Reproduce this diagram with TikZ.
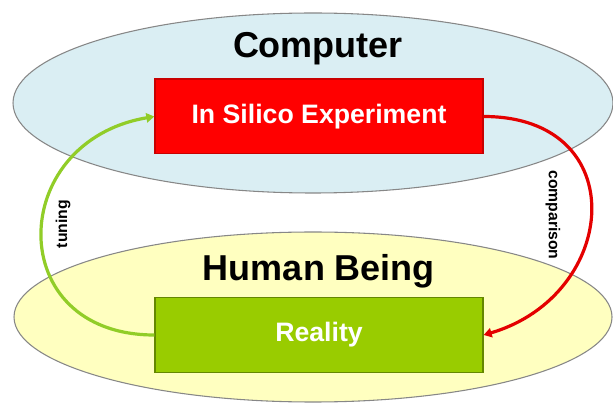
\documentclass[tikz,border=0pt]{standalone}
\usepackage{fontspec}
\setmainfont{Liberation Sans}
\usetikzlibrary{arrows.meta}

\definecolor{skyfill}{RGB}{218,238,243}
\definecolor{sandfill}{RGB}{255,255,192}
\definecolor{rimgray}{RGB}{135,135,135}
\definecolor{boxred}{RGB}{255,0,0}
\definecolor{boxredrim}{RGB}{200,0,0}
\definecolor{boxgreen}{RGB}{153,204,0}
\definecolor{boxgreenrim}{RGB}{100,135,0}
\definecolor{arrowgreen}{RGB}{145,205,40}
\definecolor{arrowred}{RGB}{228,0,0}

\tikzset{
	world/.style={draw=rimgray, line width=0.8pt},
	stage/.style={minimum width=246pt, minimum height=56pt, line width=1pt, text=white,
		font=\bfseries\fontsize{20}{24}\selectfont},
	title/.style={font=\bfseries\fontsize{27}{32}\selectfont},
	loop/.style={line width=2.4pt, -{Triangle[length=6pt,width=7pt]}},
	tag/.style={font=\bfseries\fontsize{11.8}{14}\selectfont}
}

\begin{document}
\begin{tikzpicture}[x=0.75pt,y=0.75pt]
		\useasboundingbox (0,0) rectangle (613,403);

		\draw[world, fill=skyfill] (313,300) ellipse [x radius=300, y radius=90];
		\draw[world, fill=sandfill] (313,86) ellipse [x radius=299, y radius=85];

		\node[title] (computer) at (318,354) {Computer};
		\node[title] (human) at (319,132) {Human Being};

		\node[stage, fill=boxred, draw=boxredrim] (silico) at (319,286.5) {In Silico Experiment};
		\node[stage, fill=boxgreen, draw=boxgreenrim] (reality) at (319,68) {Reality};

		\draw[loop, arrowgreen] (reality.west) .. controls +(-152,0) and +(-148,-25) .. (silico.west);
		\draw[loop, arrowred] (silico.east) .. controls +(150,0) and +(136,40) .. (reality.east);

		\foreach \name/\pos/\turn/\word in {tuning/{63,179}/90/tuning, comparison/{553,188}/-90/comparison}
		{
			\node[tag, rotate=\turn] (\name) at (\pos) {\word};
		}

	\end{tikzpicture}
\end{document}
